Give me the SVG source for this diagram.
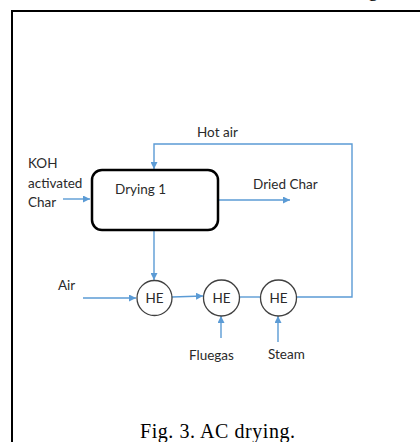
<svg xmlns="http://www.w3.org/2000/svg" width="420" height="442" viewBox="0 0 420 442">
<style>
.lbl{font-family:Lato,"Open Sans","Liberation Sans",sans-serif;font-size:13.5px;fill:#2a2a2a}
.flow{stroke:#5b9bd5;stroke-width:1.4;fill:none}
.he{fill:#fff;stroke:#404040;stroke-width:1.3}
.cap{font-family:"Liberation Serif","Times New Roman",serif;font-size:20px;fill:#000}
</style>
<defs>
<marker id="ah" viewBox="0 0 10 10" refX="10" refY="5" markerWidth="7" markerHeight="7" markerUnits="userSpaceOnUse" orient="auto">
<path d="M0,0 L10,5 L0,10 z" fill="#5b9bd5"/>
</marker>
</defs>
<rect width="420" height="442" fill="#fff"/>
<text class="cap" x="368" y="-4">g</text>
<rect x="12" y="11" width="430" height="450" fill="none" stroke="#000" stroke-width="2"/>
<g id="connectors">
<polyline class="flow" points="296,297 352,297 352,144 154,144 154,169" marker-end="url(#ah)"/>
<line class="flow" x1="63" y1="199" x2="90" y2="199" marker-end="url(#ah)"/>
<line class="flow" x1="219" y1="200" x2="290" y2="200" marker-end="url(#ah)"/>
<line class="flow" x1="154" y1="231" x2="154" y2="280" marker-end="url(#ah)"/>
<line class="flow" x1="83" y1="298" x2="136" y2="298" marker-end="url(#ah)"/>
<line class="flow" x1="172" y1="297" x2="203" y2="296" marker-end="url(#ah)"/>
<line class="flow" x1="240" y1="297" x2="260" y2="297"/>
<line class="flow" x1="221" y1="338" x2="221" y2="316" marker-end="url(#ah)"/>
<line class="flow" x1="278" y1="342" x2="278" y2="316" marker-end="url(#ah)"/>
</g>
<g id="drying1">
<rect x="92" y="170" width="126" height="60" rx="10" fill="#fff" stroke="#000" stroke-width="2.5"/>
<text class="lbl" x="115" y="194">Drying 1</text>
</g>
<g id="he1"><circle class="he" cx="154.5" cy="298" r="17.5"/><text class="lbl" x="154.5" y="303" text-anchor="middle">HE</text></g>
<g id="he2"><circle class="he" cx="221.5" cy="298" r="18"/><text class="lbl" x="221.5" y="303" text-anchor="middle">HE</text></g>
<g id="he3"><circle class="he" cx="278.5" cy="298" r="18"/><text class="lbl" x="278.5" y="303" text-anchor="middle">HE</text></g>
<g id="labels">
<text class="lbl" x="197" y="137">Hot air</text>
<text class="lbl" x="28" y="168">KOH</text>
<text class="lbl" x="28" y="188">activated</text>
<text class="lbl" x="28" y="207">Char</text>
<text class="lbl" x="253" y="189">Dried Char</text>
<text class="lbl" x="58" y="290">Air</text>
<text class="lbl" x="189" y="360">Fluegas</text>
<text class="lbl" x="268" y="359">Steam</text>
</g>
<text class="cap" x="140" y="438" textLength="155" lengthAdjust="spacing">Fig. 3. AC drying.</text>
</svg>
